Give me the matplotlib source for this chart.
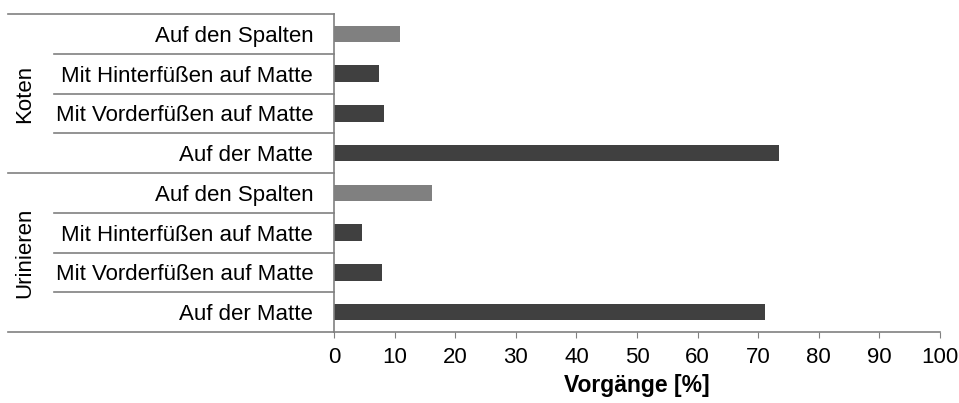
import matplotlib.pyplot as plt
from matplotlib.transforms import blended_transform_factory

plt.rcParams["font.family"] = ["Liberation Sans", "DejaVu Sans"]

# bottom to top
categories = ["Auf der Matte", "Mit Vorderfüßen auf Matte", "Mit Hinterfüßen auf Matte", "Auf den Spalten",
              "Auf der Matte", "Mit Vorderfüßen auf Matte", "Mit Hinterfüßen auf Matte", "Auf den Spalten"]
values = [71.2, 8.0, 4.6, 16.2, 73.4, 8.3, 7.4, 10.9]
groups = ["Urinieren", "Koten"]
dark = "#404040"
light = "#808080"
colors = [dark, dark, dark, light, dark, dark, dark, light]
xticks = list(range(0, 101, 10))

W, H = 959, 403
fig = plt.figure(figsize=(W / 100, H / 100), dpi=100)
ax = fig.add_axes([334 / W, 1 - 332 / H, (940 - 334) / W, (332 - 14) / H])

pos = [i + 0.5 for i in range(len(categories))]
ax.barh(pos, values, height=0.42, color=colors)

ax.set_xlim(0, 100)
ax.set_ylim(0, len(categories))
ax.set_xticks(xticks)
ax.set_yticks(pos)
ax.set_yticklabels(categories, fontsize=16)
ax.tick_params(axis="y", length=0, pad=15)
ax.tick_params(axis="x", length=4, color="#808080", labelsize=16, pad=7)
ax.set_xlabel("Vorgänge [%]", fontsize=16.5, fontweight="bold", labelpad=4)

for s in ["top", "right"]:
    ax.spines[s].set_visible(False)
for s in ["left", "bottom"]:
    ax.spines[s].set_color("#808080")
    ax.spines[s].set_linewidth(1.2)

# category separators drawn left of the axis
tr = blended_transform_factory(fig.transFigure, ax.transData)
n = len(categories)
for k in range(n + 1):
    x0 = 8 / W if k % 4 == 0 else 54 / W
    ax.plot([x0, 334 / W], [k, k], color="#808080", lw=1.2, transform=tr, clip_on=False)

for g, name in enumerate(groups):
    ax.text(25 / W, g * 4 + 2, name, transform=tr, rotation=90, ha="center", va="center", fontsize=16)

fig.savefig("out.png", dpi=100)
